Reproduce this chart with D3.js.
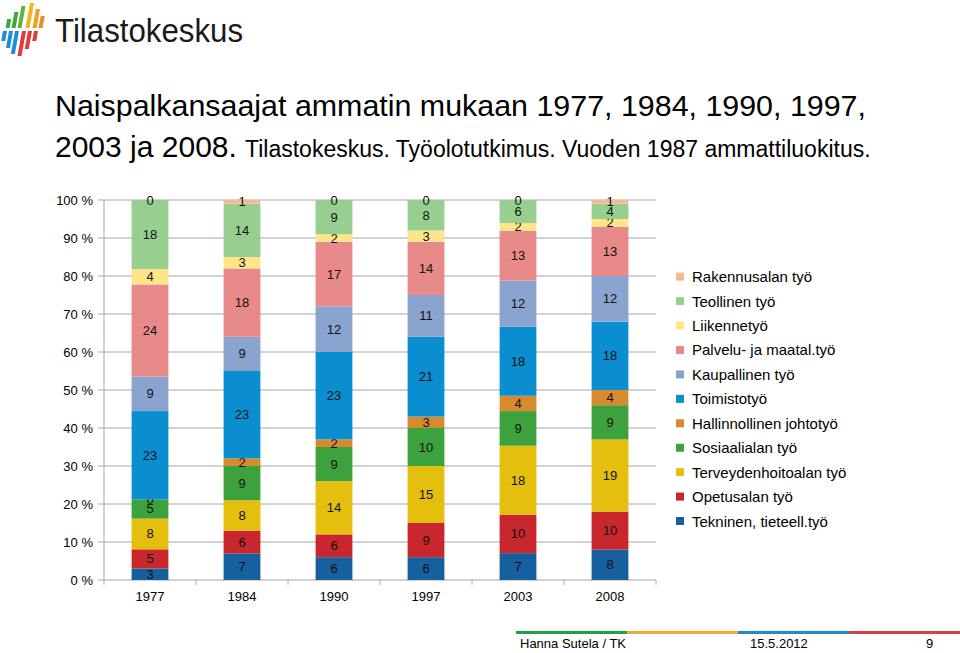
<!DOCTYPE html>
<html><head><meta charset="utf-8">
<script src="https://cdn.jsdelivr.net/npm/d3@7"></script>
<style>
body{margin:0;background:#fff;}
svg{display:block;font-family:"Liberation Sans",Arial,sans-serif;}
</style></head>
<body><svg id="c" width="960" height="653"></svg>
<script>
const years = ["1977","1984","1990","1997","2003","2008"];
const seriesNames = ["Tekninen, tieteell.työ","Opetusalan työ","Terveydenhoitoalan työ","Sosiaalialan työ","Hallinnollinen johtotyö","Toimistotyö","Kaupallinen työ","Palvelu- ja maatal.työ","Liikennetyö","Teollinen työ","Rakennusalan työ"];
const seriesColors = ["#17609F","#C8272D","#E5BF0D","#3DA23D","#D88A2E","#0B8ED0","#8AA3CF","#E88A8A","#FFE58A","#96CF8F","#F5B995"];
const tekninen      = [3, 7, 6, 6, 7, 8];
const opetus        = [5, 6, 6, 9, 10, 10];
const terveys       = [8, 8, 14, 15, 18, 19];
const sosiaali      = [5, 9, 9, 10, 9, 9];
const hallinnollinen= [0, 2, 2, 3, 4, 4];
const toimisto      = [23, 23, 23, 21, 18, 18];
const kaupallinen   = [9, 9, 12, 11, 12, 12];
const palvelu       = [24, 18, 17, 14, 13, 13];
const liikenne      = [4, 3, 2, 3, 2, 2];
const teollinen     = [18, 14, 9, 8, 6, 4];
const rakennus      = [0, 1, 0, 0, 0, 1];
const yTicks = ["0 %","10 %","20 %","30 %","40 %","50 %","60 %","70 %","80 %","90 %","100 %"];

const seriesVals = [tekninen,opetus,terveys,sosiaali,hallinnollinen,toimisto,kaupallinen,palvelu,liikenne,teollinen,rakennus];
const rows = years.map((y,i)=>{const o={year:y}; seriesNames.forEach((s,k)=>o[s]=seriesVals[k][i]); return o;});

const svg = d3.select("#c");

// logo
const logo = svg.append("g");
const stripes = [
 [5,19,28,"#3DAA3F"],[11,12,28,"#3DAA3F"],[17,6,28,"#5DB53A"],[25,3,28,"#F2B51C"],[32,9,28,"#F0A01E"],[38,16,28,"#EE8B1E"],
 [3,31,41,"#1E8FD6"],[9,31,48,"#1E8FD6"],[15,31,54,"#1E8FD6"],[22,31,56,"#E03A3A"],[28,31,49,"#E03A3A"],[34,31,41,"#E03A3A"]
];
const slant = 0.18, sw = 4;
stripes.forEach(([x,t,b,c])=>{
  const dxT = (31-t)*slant, dxB=(31-b)*slant;
  logo.append("path").attr("fill",c)
   .attr("d",`M${x+dxT},${t} L${x+dxT+sw},${t} L${x+dxB+sw},${b} L${x+dxB},${b} Z`);
});
logo.append("text").attr("x",55).attr("y",42).attr("font-size",34)
  .attr("textLength",188).attr("lengthAdjust","spacingAndGlyphs")
  .attr("fill","#1a1a1a").text("Tilastokeskus");

// title
svg.append("text").attr("x",55).attr("y",116).attr("font-size",30.4).attr("fill","#000")
  .text("Naispalkansaajat ammatin mukaan 1977, 1984, 1990, 1997,");
const t2 = svg.append("text").attr("x",55).attr("y",157).attr("fill","#000");
t2.append("tspan").attr("font-size",30).text("2003 ja 2008.");
t2.append("tspan").attr("x",245).attr("font-size",23).text("Tilastokeskus. Työolotutkimus. Vuoden 1987 ammattiluokitus.");

// chart
const x0 = 104, x1 = 656, yTop = 200, yBot = 580;
const x = d3.scaleBand().domain(years).range([x0,x1]).paddingInner(0.6).paddingOuter(0.3);
const y = d3.scaleLinear().domain([0,1]).range([yBot,yTop]);

const g = svg.append("g");
g.selectAll("line.grid").data(d3.range(0,11)).enter().append("line")
  .attr("x1",x0-6).attr("x2",x1).attr("y1",d=>y(d/10)).attr("y2",d=>y(d/10))
  .attr("stroke","#A6A6A6").attr("stroke-width",1);
g.selectAll("text.yl").data(yTicks).enter().append("text")
  .attr("x",93).attr("y",(d,i)=>y(i/10)+4.5).attr("text-anchor","end")
  .attr("font-size",13).attr("fill","#000").text(d=>d);
g.append("line").attr("x1",x0).attr("x2",x0).attr("y1",yTop).attr("y2",yBot).attr("stroke","#A6A6A6");
g.selectAll("line.xt").data(d3.range(0,years.length+1)).enter().append("line")
  .attr("x1",d=>x0+d*(x1-x0)/years.length).attr("x2",d=>x0+d*(x1-x0)/years.length)
  .attr("y1",yBot).attr("y2",yBot+5).attr("stroke","#A6A6A6");
g.selectAll("text.xl").data(years).enter().append("text")
  .attr("x",d=>x(d)+x.bandwidth()/2).attr("y",601).attr("text-anchor","middle")
  .attr("font-size",13).attr("fill","#000").text(d=>d);

const stack = d3.stack().keys(seriesNames).offset(d3.stackOffsetExpand);
const layers = stack(rows);
const lg = g.selectAll("g.layer").data(layers).enter().append("g").attr("fill",(d,i)=>seriesColors[i]);
lg.selectAll("rect").data(d=>d).enter().append("rect")
  .attr("x",d=>x(d.data.year)).attr("width",x.bandwidth())
  .attr("y",d=>y(d[1])).attr("height",d=>Math.max(0,y(d[0])-y(d[1])));
lg.selectAll("text").data((d,i)=>d.map(p=>({p,key:d.key}))).enter().append("text")
  .attr("x",d=>x(d.p.data.year)+x.bandwidth()/2)
  .attr("y",d=>y((d.p[0]+d.p[1])/2)+4.5)
  .attr("text-anchor","middle").attr("font-size",13).attr("fill","#111")
  .text(d=>d.p.data[d.key]);

// legend
const leg = svg.append("g");
const legOrder = seriesNames.slice().reverse();
const legCols = seriesColors.slice().reverse();
legOrder.forEach((n,i)=>{
  const cy = 276.7 + i*24.43;
  leg.append("rect").attr("x",676).attr("y",cy-4).attr("width",8).attr("height",8).attr("fill",legCols[i]);
  leg.append("text").attr("x",692).attr("y",cy+5.5).attr("font-size",15).attr("fill","#000").text(n);
});

// footer
const footCols = ["#1FA046","#F0AA32","#1E8CD2","#E03C3C"];
footCols.forEach((c,i)=>{
  svg.append("rect").attr("x",516+i*111).attr("y",631).attr("width",111).attr("height",3).attr("fill",c);
});
svg.append("text").attr("x",520).attr("y",648).attr("font-size",13).text("Hanna Sutela / TK");
svg.append("text").attr("x",750).attr("y",648).attr("font-size",13).text("15.5.2012");
svg.append("text").attr("x",926).attr("y",648).attr("font-size",13).text("9");
</script></body></html>
